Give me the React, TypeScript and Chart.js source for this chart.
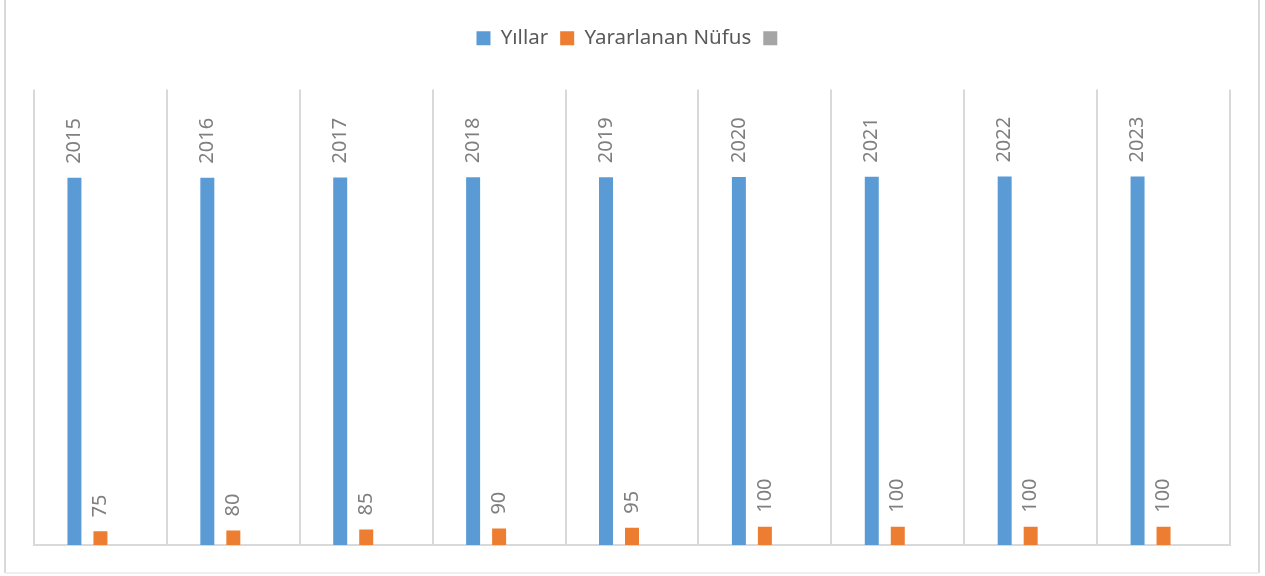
import React, { useEffect, useRef } from "react";
import { Chart, registerables } from "chart.js";

Chart.register(...registerables);

const categories = ["2015", "2016", "2017", "2018", "2019", "2020", "2021", "2022", "2023"];
const yillar = [2015, 2016, 2017, 2018, 2019, 2020, 2021, 2022, 2023];
const yararlananNufus = [75, 80, 85, 90, 95, 100, 100, 100, 100];
const thirdSeries: (number | null)[] = [null, null, null, null, null, null, null, null, null];
const seriesLabels = ["Yıllar", "Yararlanan Nüfus", ""];
const yMax = 2500;

const FONT = "'Noto Sans', 'Open Sans', sans-serif";

const legendSpacer = {
  id: "legendSpacer",
  afterInit(chart: any) {
    const legend = chart.legend;
    if (!legend || legend._patched) return;
    const orig = legend.fit;
    legend.fit = function () {
      orig.call(this);
      this.height += 31;
    };
    legend._patched = true;
  },
};

const outerBorder = {
  id: "outerBorder",
  beforeDraw(chart: any) {
    const ctx = chart.ctx;
    ctx.save();
    ctx.strokeStyle = "#d9d9d9";
    ctx.lineWidth = 2;
    ctx.beginPath();
    ctx.moveTo(5, 0);
    ctx.lineTo(5, 573);
    ctx.moveTo(1259, 0);
    ctx.lineTo(1259, 573);
    ctx.stroke();
    ctx.strokeStyle = "#efefef";
    ctx.beginPath();
    ctx.moveTo(5, 573);
    ctx.lineTo(1259, 573);
    ctx.stroke();
    ctx.restore();
  },
};

const dataLabels = {
  id: "dataLabels",
  afterDatasetsDraw(chart: any) {
    const ctx = chart.ctx;
    ctx.save();
    ctx.fillStyle = "#7f7f7f";
    ctx.font = `20px ${FONT}`;
    ctx.textAlign = "left";
    ctx.textBaseline = "middle";
    [0, 1].forEach((di) => {
      const meta = chart.getDatasetMeta(di);
      const data = chart.data.datasets[di].data;
      meta.data.forEach((bar: any, i: number) => {
        const v = data[i];
        if (v === null || v === undefined) return;
        ctx.save();
        ctx.translate(bar.x, bar.y - 14);
        ctx.rotate(-Math.PI / 2);
        ctx.fillText(String(v), 0, 0);
        ctx.restore();
      });
    });
    ctx.restore();
  },
};

export default function App() {
  const ref = useRef<HTMLCanvasElement | null>(null);

  useEffect(() => {
    if (!ref.current) return;
    const chart = new Chart(ref.current, {
      type: "bar",
      data: {
        labels: categories,
        datasets: [
          {
            label: seriesLabels[0],
            data: yillar,
            backgroundColor: "#5b9bd5",
            borderWidth: 0,
            categoryPercentage: 0.587,
            barPercentage: 0.538,
          },
          {
            label: seriesLabels[1],
            data: yararlananNufus,
            backgroundColor: "#ed7d31",
            borderWidth: 0,
            categoryPercentage: 0.587,
            barPercentage: 0.538,
          },
          {
            label: seriesLabels[2],
            data: thirdSeries,
            backgroundColor: "#a5a5a5",
            borderWidth: 0,
            categoryPercentage: 0.587,
            barPercentage: 0.538,
          },
        ],
      },
      options: {
        responsive: false,
        animation: false,
        layout: { padding: { top: 16, left: 34, right: 35, bottom: 31 } },
        plugins: {
          legend: {
            display: true,
            position: "top",
            labels: {
              boxWidth: 14,
              boxHeight: 14,
              padding: 12,
              color: "#595959",
              font: { family: FONT, size: 20.5 },
            },
          },
          tooltip: { enabled: false },
          title: { display: false },
        },
        scales: {
          x: {
            grid: {
              display: true,
              color: "#d9d9d9",
              lineWidth: 2,
              drawTicks: false,
              offset: true,
            },
            border: { display: true, color: "#d9d9d9", width: 2 },
            ticks: { display: false },
          },
          y: {
            display: false,
            min: 0,
            max: yMax,
          },
        },
      },
      plugins: [legendSpacer, outerBorder, dataLabels],
    });
    return () => chart.destroy();
  }, []);

  return (
    <div style={{ position: "absolute", left: 0, top: 0, width: 1265, height: 576, background: "#fff" }}>
      <canvas ref={ref} width={1265} height={576} style={{ display: "block", width: 1265, height: 576 }} />
    </div>
  );
}
